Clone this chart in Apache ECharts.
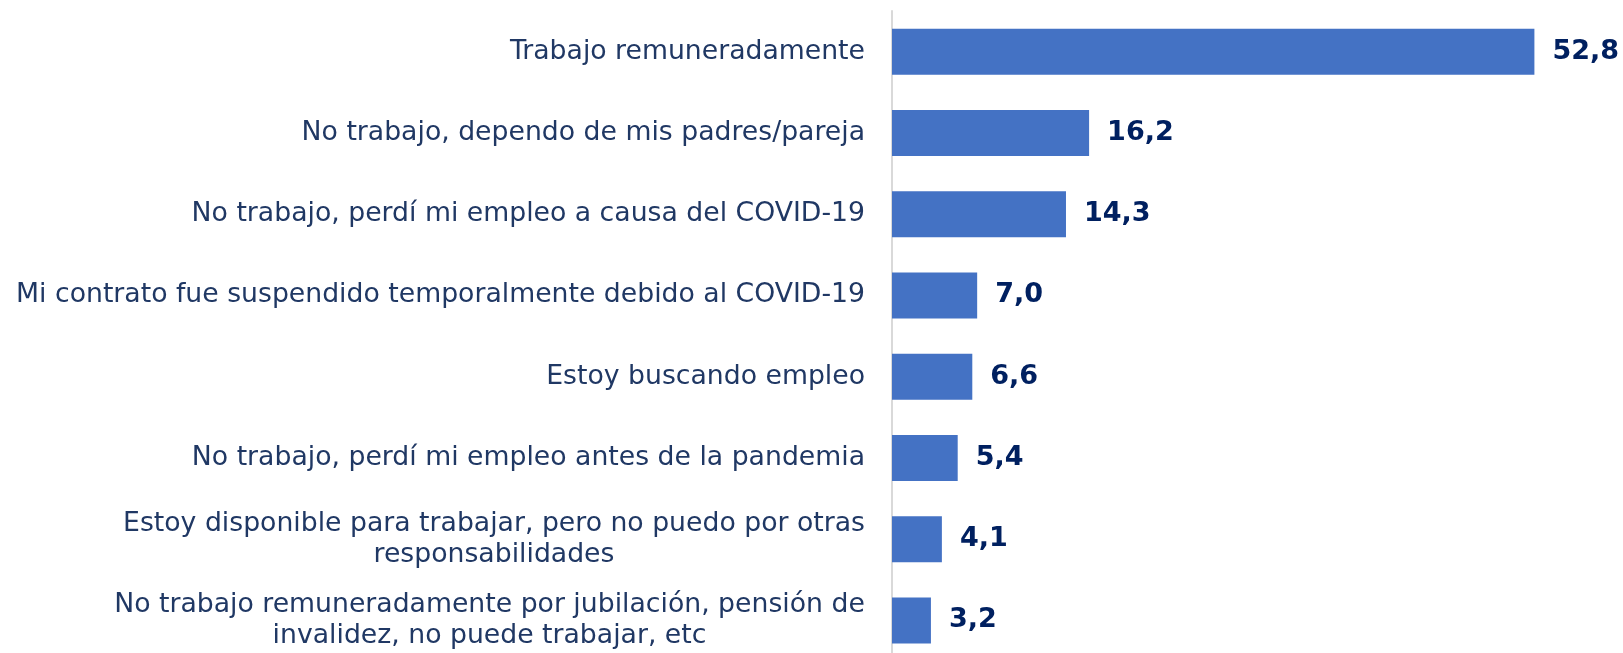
<!DOCTYPE html>
<html>
<head>
<meta charset="utf-8">
<script src="https://cdn.jsdelivr.net/npm/echarts@6/dist/echarts.min.js"></script>
<style>
  html, body { margin: 0; padding: 0; background: #fff; overflow: hidden; }
  #chart { width: 1623px; height: 662px; }
</style>
</head>
<body>
<div id="chart"></div>
<script>
// categories top to bottom, as in the picture
var categories = [
  "Trabajo remuneradamente",
  "No trabajo, dependo de mis padres/pareja",
  "No trabajo, perdí mi empleo a causa del COVID-19",
  "Mi contrato fue suspendido temporalmente debido al COVID-19",
  "Estoy buscando empleo",
  "No trabajo, perdí mi empleo antes de la pandemia",
  "Estoy disponible para trabajar, pero no puedo por otras\nresponsabilidades",
  "No trabajo remuneradamente por jubilación, pensión de\ninvalidez, no puede trabajar, etc"
];
var values = [52.8, 16.2, 14.3, 7.0, 6.6, 5.4, 4.1, 3.2];

var labelSize = 26.7;
var ctx = document.createElement("canvas").getContext("2d");
ctx.font = labelSize + "px 'DejaVu Sans'";

// rich styles so the second line of a two-line label is centred under the first
var rich = {};
categories.forEach(function (c, i) {
  var lines = c.split("\n");
  if (lines.length > 1) {
    var w = Math.max.apply(null, lines.map(function (l) { return ctx.measureText(l).width; }));
    rich["c" + i] = { width: Math.ceil(w), align: "center", fontSize: labelSize, lineHeight: 31,
      color: "#203864", fontFamily: "DejaVu Sans" };
  }
});

// the plot runs a little past the bottom of the window, as in the original
var chart = echarts.init(document.getElementById("chart"));
var option = {
  animation: false,
  grid: { left: 892, right: 1, top: 11, bottom: 1, containLabel: false },
  xAxis: {
    type: "value",
    min: 0,
    max: 60,
    show: false
  },
  yAxis: {
    type: "category",
    inverse: true,
    data: categories,
    axisTick: { show: false },
    axisLine: { lineStyle: { color: "#D9D9D9", width: 2 } },
    axisLabel: {
      margin: 27,
      fontSize: labelSize,
      lineHeight: 31,
      color: "#203864",
      fontFamily: "DejaVu Sans",
      formatter: function (val, idx) {
        if (val.indexOf("\n") < 0) return val;
        return val.split("\n").map(function (l) { return "{c" + idx + "|" + l + "}"; }).join("\n");
      },
      rich: rich
    }
  },
  series: [{
    type: "bar",
    data: values,
    barWidth: 46,
    itemStyle: { color: "#4472C4" },
    label: {
      show: true,
      position: "right",
      distance: 18,
      fontSize: 27,
      fontWeight: "bold",
      color: "#002060",
      fontFamily: "DejaVu Sans",
      formatter: function (p) { return p.value.toFixed(1).replace(".", ","); }
    }
  }]
};
chart.setOption(option);
</script>
</body>
</html>
